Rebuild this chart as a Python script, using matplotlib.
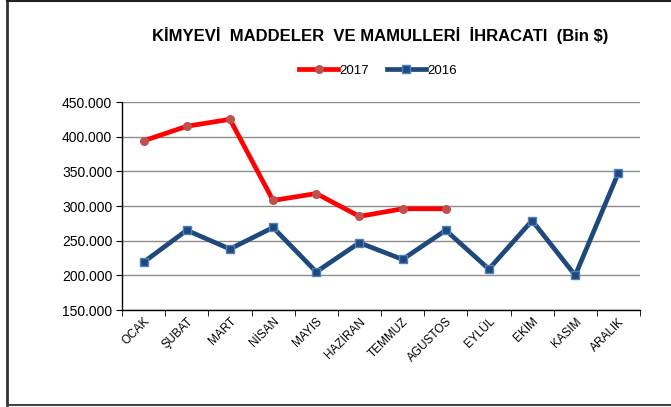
import matplotlib
matplotlib.use("Agg")
import matplotlib.pyplot as plt
from matplotlib.lines import Line2D
from matplotlib.ticker import FuncFormatter, FixedLocator

plt.rcParams['font.family'] = ['Liberation Sans', 'DejaVu Sans']

# data (Bin $)
months = ["OCAK", "ŞUBAT", "MART", "NİSAN", "MAYIS", "HAZİRAN", "TEMMUZ",
          "AGUSTOS", "EYLÜL", "EKİM", "KASIM", "ARALIK"]
values_2017 = [394000, 415000, 425000, 308000, 318000, 285000, 296000, 296000]
values_2016 = [219000, 265000, 238000, 269000, 205000, 247000, 223000, 265000,
               209000, 279000, 200000, 348000]

fig = plt.figure(figsize=(6.71, 4.07), dpi=100)
ax = fig.add_axes([122 / 671, 1 - 310 / 407, 518 / 671, 208 / 407])

x17 = list(range(len(values_2017)))
x16 = list(range(len(values_2016)))

ax.plot(x17, values_2017, color='#FF0000', lw=3.4, marker='o', ms=5.5,
        mfc='#C0504D', mec='#C0504D', label='2017', zorder=3)
ax.plot(x16, values_2016, color='#1F497D', lw=3.4, marker='s', ms=5.5,
        mfc='#1F497D', mec='#4F81BD', mew=1, label='2016', zorder=3)

ax.set_xlim(-0.5, len(months) - 0.5)
ax.set_ylim(150000, 450000)
ax.set_yticks(range(150000, 450001, 50000))
ax.yaxis.set_major_formatter(FuncFormatter(lambda v, p: f"{int(v):,}".replace(",", ".")))
ax.grid(axis='y', color='#8c8c8c', lw=1)
ax.set_axisbelow(True)

ax.set_xticks(x16)
ax.set_xticklabels(months, rotation=45, ha='right', rotation_mode='anchor', fontsize=8.5)
ax.xaxis.set_minor_locator(FixedLocator([i - 0.5 for i in range(len(months) + 1)]))
ax.tick_params(axis='x', which='major', length=0, pad=4)
ax.tick_params(axis='x', which='minor', length=4, direction='out', color='black')
ax.tick_params(axis='y', length=4, direction='out', labelsize=10, color='black', pad=3)

for s in ['top', 'right']:
    ax.spines[s].set_visible(False)
for s in ['left', 'bottom']:
    ax.spines[s].set_color('black')
    ax.spines[s].set_linewidth(1)

fig.text(380 / 671, 1 - 36 / 407, "KİMYEVİ  MADDELER  VE MAMULLERİ  İHRACATI  (Bin $)",
         ha='center', va='center', fontsize=12, fontweight='bold')

ax.legend(loc='center', bbox_to_anchor=(378 / 671, 1 - 71 / 407),
          bbox_transform=fig.transFigure, ncol=2, frameon=False, fontsize=9.5,
          handlelength=3, handletextpad=0.1, columnspacing=1.3)

# outer frame
fig.add_artist(Line2D([6.5 / 671, 6.5 / 671], [0.005, 1], color='#333333', lw=2, transform=fig.transFigure))
fig.add_artist(Line2D([6.5 / 671, 1], [1 - 0.5 / 407, 1 - 0.5 / 407], color='#222222', lw=1.5, transform=fig.transFigure))
fig.add_artist(Line2D([6.5 / 671, 1], [1 - 405 / 407, 1 - 405 / 407], color='#444444', lw=1.5, transform=fig.transFigure))

fig.savefig("out.png", dpi=100)
